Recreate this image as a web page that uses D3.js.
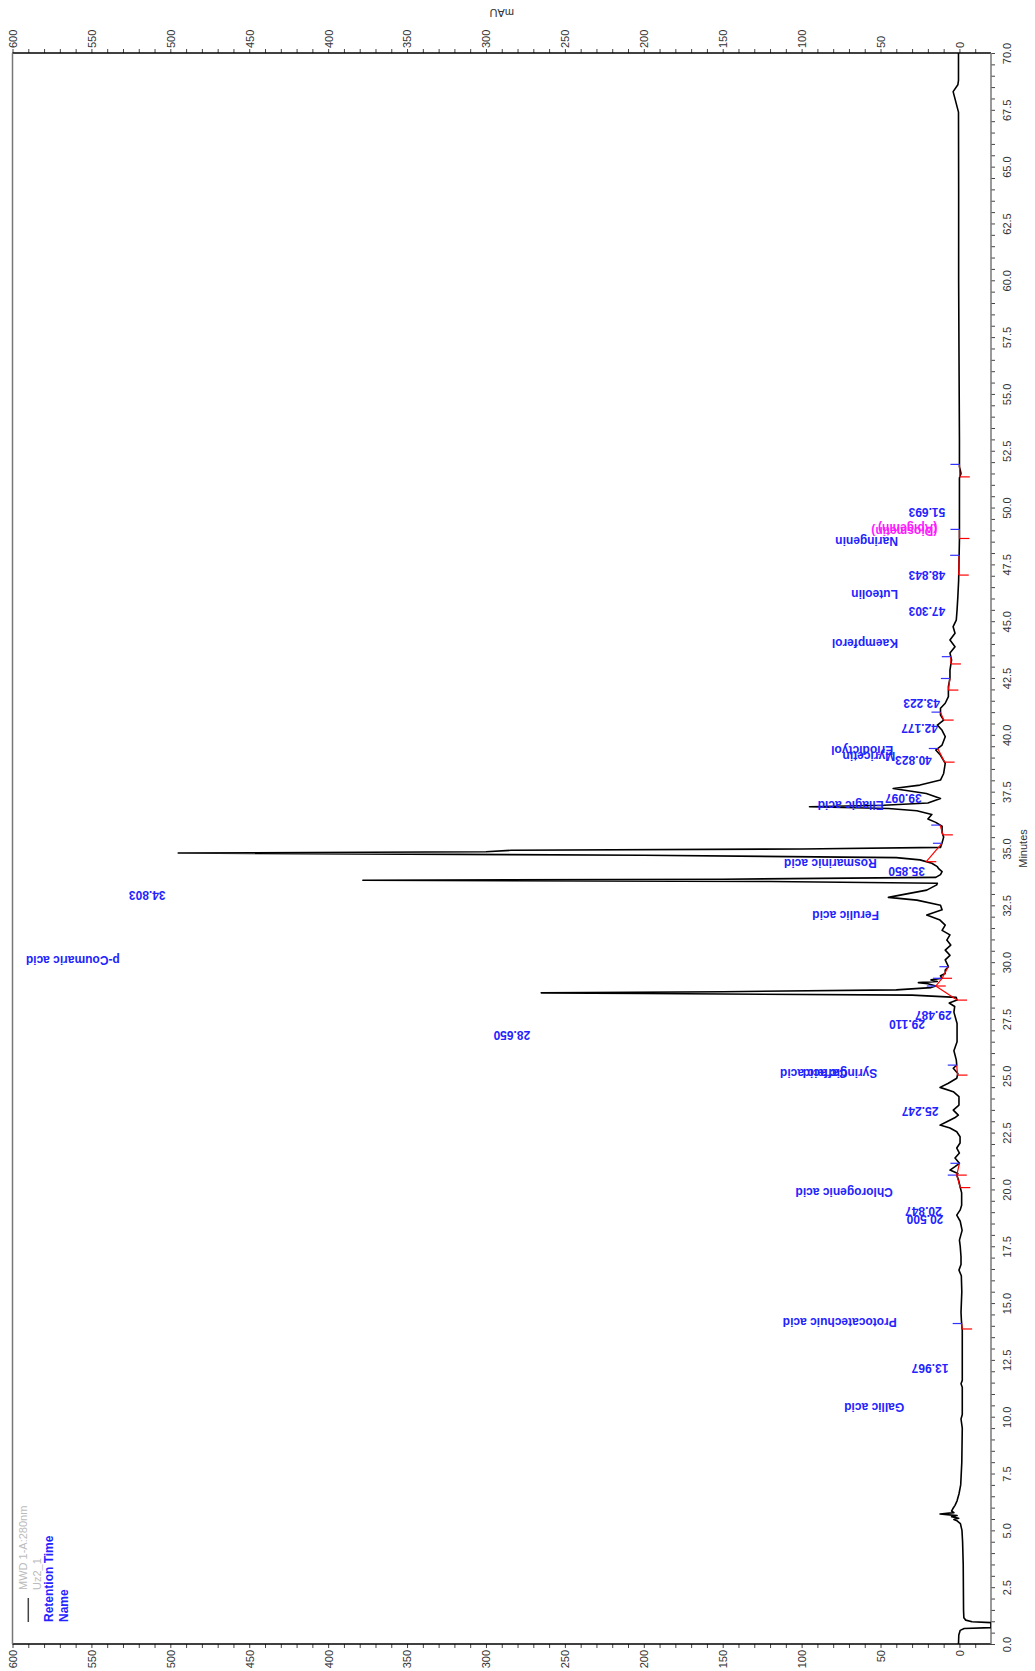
<!DOCTYPE html>
<html>
<head>
<meta charset="utf-8">
<script src="https://cdn.jsdelivr.net/npm/d3@7/dist/d3.min.js"></script>
<style>
body { margin: 0; background: #fff; }
svg { display: block; font-family: "Liberation Sans", Arial, sans-serif; }
</style>
</head>
<body>
<div class="chart"></div>
<script>
// trace: [minutes, mAU]
var trace = [
  [0.0, 0.6], [0.4, 0.4], [0.6, -0.5], [0.68, -3], [0.72, -20], [0.94, -20], [0.98, -8], [1.05, -4],
  [1.15, -2.8], [1.5, -2.6], [2.5, -2.5], [3.5, -2.4], [4.5, -2.0], [5.0, -1.6], [5.3, -0.6],
  [5.42, 1.5], [5.48, 3.5], [5.53, 0.5], [5.6, 5], [5.65, 1.5], [5.72, 12.3], [5.78, 3.5], [5.85, 5],
  [5.95, 4.2], [6.1, 2.8], [6.3, 1.5], [6.6, 0.3], [7.0, -0.8], [8.0, -1.5], [9.5, -1.8], [9.9, -1.0],
  [10.1, -1.8], [11.3, -1.8], [11.45, -1.0], [11.6, -1.8], [13.8, -1.8], [14.0, -1.5], [14.3, -1.2],
  [14.6, -1.0], [15.5, -1.5], [16.2, -1.2], [16.45, 0.3], [16.7, -1.0], [17.04, -1.0], [17.5, -0.5],
  [17.77, 0], [18.2, -1.7], [18.6, -0.5], [18.87, 1.7], [19.1, -0.5], [19.3, -1.4], [19.85, -1.4],
  [20.12, -0.4], [20.4, 0.5], [20.63, 1.7], [20.7, 1.0], [20.85, 6], [21.0, 2.8], [21.15, 0],
  [21.38, 2.8], [21.6, 0], [21.82, 1.7], [22.04, -0.4], [22.32, -0.4], [22.54, 1.7], [22.7, 6],
  [22.83, 12.3], [22.98, 8], [23.15, 3], [23.27, 0.7], [23.49, 3.9], [23.71, 0.3], [24.08, 0.3],
  [24.3, 3.9], [24.49, 12.3], [24.67, 7], [24.89, 1.7], [25.1, 1.0], [25.33, 3.9], [25.47, 1.7],
  [25.7, 2], [26.1, 3.5], [26.5, 1.5], [27.3, 1.5], [27.8, 3.5], [28.05, 3], [28.2, 6.5], [28.33, 1.5],
  [28.45, 2], [28.55, 30], [28.62, 200], [28.65, 265], [28.7, 150], [28.78, 40], [28.88, 18],
  [28.95, 15], [29.05, 20], [29.1, 26], [29.15, 14], [29.22, 18], [29.29, 11], [29.4, 12], [29.5, 9],
  [29.65, 9], [29.8, 7], [30.1, 9], [30.3, 6], [30.53, 9], [30.75, 5.5], [30.97, 8], [31.2, 6],
  [31.4, 11], [31.63, 9], [31.85, 12.3], [32.07, 20.7], [32.3, 11], [32.5, 12], [32.73, 27],
  [32.85, 45], [32.95, 37.6], [33.17, 20.7], [33.4, 14.4], [33.47, 14], [33.55, 120], [33.6, 378],
  [33.65, 150], [33.73, 15], [33.85, 12], [33.98, 11], [34.1, 13], [34.2, 14], [34.35, 17.5],
  [34.5, 25], [34.6, 40], [34.7, 200], [34.8, 495], [34.86, 300], [34.92, 284], [34.98, 100],
  [35.05, 12], [35.25, 11], [35.5, 10], [35.7, 11], [35.98, 11], [36.15, 15], [36.3, 20], [36.5, 17.5],
  [36.66, 27], [36.76, 45], [36.84, 95], [36.9, 48], [37.0, 20], [37.2, 12], [37.42, 21], [37.64, 42],
  [37.79, 25], [38.01, 12], [38.3, 10], [38.75, 9], [39.1, 12], [39.33, 15], [39.55, 11], [39.92, 9],
  [40.2, 11], [40.43, 14], [40.65, 10], [40.87, 12], [41.17, 12], [41.39, 9], [41.68, 7], [42.12, 7],
  [42.5, 6], [42.85, 6], [43.3, 5], [43.6, 6], [43.88, 2.8], [44.17, 6], [44.47, 2.8], [44.76, 4],
  [45.05, 2], [45.5, 1.5], [46.08, 1], [46.8, 0.5], [48.57, 0], [51.3, 0], [51.5, -1], [51.8, 0],
  [53.0, 0], [57.0, 0.3], [60.0, 0.5], [64.0, 0.5], [67.4, 0.6], [68.3, 4], [68.6, 1], [68.8, 0.6],
  [70.0, 0.6]
];

// integration start / end times (minutes)
var integrations = [
  [13.86, 14.1], [20.08, 20.63], [20.63, 21.15], [25.03, 25.47], [28.33, 28.95], [28.95, 29.29],
  [29.29, 29.8], [34.42, 35.23], [35.6, 36.03], [38.8, 39.4], [40.65, 41.0], [41.97, 42.48],
  [43.12, 43.44], [47.03, 47.9], [48.64, 49.04], [51.35, 51.9]
];

// peak labels: [text, minutes, mAU where the text starts]
var nameLabels = [
  ["Gallic acid", 10.44, 35], ["Protocatechuic acid", 14.18, 39.7], ["Chlorogenic acid", 19.86, 42.2],
  ["Syringic acid", 25.13, 52], ["Caffeic acid", 25.13, 71], ["p-Coumaric acid", 30.1, 532],
  ["Ferulic acid", 32.07, 51], ["Rosmarinic acid", 34.35, 52.4], ["Ellagic acid", 36.9, 48],
  ["Myricetin", 39.04, 40.7], ["Eriodictyol", 39.32, 42], ["Kaempferol", 44.02, 39],
  ["Luteolin", 46.18, 39], ["Naringenin", 48.5, 39]
];
var timeLabels = [
  ["13.967", 12.13, 7], ["20.500", 18.7, 10.2], ["20.847", 19.02, 11.2], ["25.247", 23.42, 13.3],
  ["28.650", 26.8, 272], ["29.110", 27.28, 21.8], ["29.487", 27.65, 4.9], ["34.803", 32.95, 503],
  ["35.850", 33.98, 21.8], ["39.097", 37.2, 23.9], ["40.823", 38.9, 17.5], ["42.177", 40.28, 13.6],
  ["43.223", 41.39, 12.3], ["47.303", 45.42, 9], ["48.843", 47.03, 9], ["51.693", 49.8, 9]
];
var magentaLabels = [["(Apigenin)", 49.1, 14], ["(Diosmetin)", 48.98, 14]];

var mauTicks = d3.range(-10, 601, 10);
var minuteTicks = d3.range(0, 70.001, 0.5);

var svgWidth = 1035, svgHeight = 1671;
var frame = { left: 12.5, right: 991, top: 53, bottom: 1644 };

var svg = d3.select(".chart").append("svg")
  .attr("width", svgWidth)
  .attr("height", svgHeight);

// mAU runs right to left, minutes bottom to top (chart turned on its side)
var xScale = d3.scaleLinear().domain([-20, 600]).range([frame.right, frame.left]);
var yScale = d3.scaleLinear().domain([0, 70]).range([frame.bottom, frame.top]);

svg.append("clipPath").attr("id", "plotclip")
  .append("rect")
  .attr("x", frame.left).attr("y", frame.top)
  .attr("width", frame.right - frame.left).attr("height", frame.bottom - frame.top);

// axes
var fmtMau = function (d) { return (d >= 0 && d % 50 === 0) ? d : ""; };

var topAxis = svg.append("g")
  .attr("transform", `translate(0, ${frame.top})`)
  .call(d3.axisTop(xScale).tickValues(mauTicks).tickSize(4).tickFormat(fmtMau));
topAxis.selectAll("text")
  .attr("transform", "rotate(-90)")
  .attr("x", 5).attr("y", 0).attr("dy", "0.35em")
  .style("text-anchor", "start");

var bottomAxis = svg.append("g")
  .attr("transform", `translate(0, ${frame.bottom})`)
  .call(d3.axisBottom(xScale).tickValues(mauTicks).tickSize(4).tickFormat(fmtMau));
bottomAxis.selectAll("text")
  .attr("transform", "rotate(-90)")
  .attr("x", -6).attr("y", 0).attr("dy", "0.35em")
  .style("text-anchor", "end");

var rightAxis = svg.append("g")
  .attr("transform", `translate(${frame.right}, 0)`)
  .call(d3.axisRight(yScale).tickValues(minuteTicks).tickSize(4)
    .tickFormat(function (d) { return (Math.round(d * 10) % 25 === 0) ? d3.format(".1f")(d) : ""; }));
rightAxis.selectAll("text")
  .attr("transform", "rotate(-90)")
  .attr("x", 0).attr("y", 16.5).attr("dy", "0.35em")
  .style("text-anchor", "middle");

svg.selectAll(".domain").remove();
svg.selectAll(".tick line").attr("stroke", "#444");
svg.selectAll(".tick text").attr("fill", "#333").style("font-size", "11px")
  .style("font-family", "'Liberation Sans', Arial, sans-serif");

// frame
svg.append("line").attr("x1", frame.left).attr("x2", frame.right).attr("y1", frame.top).attr("y2", frame.top)
  .attr("stroke", "#000").attr("stroke-width", 1.5);
svg.append("line").attr("x1", frame.left).attr("x2", frame.right).attr("y1", frame.bottom).attr("y2", frame.bottom)
  .attr("stroke", "#000").attr("stroke-width", 1.5);
svg.append("line").attr("x1", frame.left).attr("x2", frame.left).attr("y1", frame.top).attr("y2", frame.bottom)
  .attr("stroke", "#777").attr("stroke-width", 1.5);
svg.append("line").attr("x1", frame.right).attr("x2", frame.right).attr("y1", frame.top).attr("y2", frame.bottom)
  .attr("stroke", "#777").attr("stroke-width", 1.5);

// axis titles
svg.append("text")
  .attr("transform", `translate(${(frame.left + frame.right) / 2}, 13) rotate(180)`)
  .attr("dy", "0.35em")
  .style("text-anchor", "middle").style("font-size", "11px").attr("fill", "#333")
  .text("mAU");
svg.append("text")
  .attr("transform", `translate(1023, ${(frame.top + frame.bottom) / 2}) rotate(-90)`)
  .attr("dy", "0.35em")
  .style("text-anchor", "middle").style("font-size", "11px").attr("fill", "#333")
  .text("Minutes");

// trace
var line = d3.line()
  .x(d => xScale(d[1]))
  .y(d => yScale(d[0]));

var plot = svg.append("g").attr("clip-path", "url(#plotclip)");

plot.append("path")
  .datum(trace)
  .attr("fill", "none")
  .attr("stroke", "#000")
  .attr("stroke-width", 1.6)
  .attr("stroke-linejoin", "round")
  .attr("d", line);

// value of the trace at a given time
var bisect = d3.bisector(d => d[0]).left;
function traceAt(t) {
  var i = bisect(trace, t);
  if (i <= 0) return trace[0][1];
  if (i >= trace.length) return trace[trace.length - 1][1];
  var a = trace[i - 1], b = trace[i];
  return a[1] + (b[1] - a[1]) * (t - a[0]) / (b[0] - a[0]);
}

// integration baselines and marks
var marks = plot.append("g");
integrations.forEach(function (p) {
  var ys = traceAt(p[0]), ye = traceAt(p[1]);
  marks.append("line")
    .attr("x1", xScale(ys)).attr("y1", yScale(p[0]))
    .attr("x2", xScale(ye)).attr("y2", yScale(p[1]))
    .attr("stroke", "#f00").attr("stroke-width", 1.2);
  marks.append("line")
    .attr("x1", xScale(ys)).attr("x2", xScale(ys) + 10)
    .attr("y1", yScale(p[0])).attr("y2", yScale(p[0]))
    .attr("stroke", "#f00").attr("stroke-width", 1.2);
  marks.append("line")
    .attr("x1", xScale(ye) - 9).attr("x2", xScale(ye))
    .attr("y1", yScale(p[1])).attr("y2", yScale(p[1]))
    .attr("stroke", "#33f").attr("stroke-width", 1.2);
});

// peak labels, upside down
function drawLabels(list, color) {
  svg.append("g").selectAll("text")
    .data(list)
    .enter()
    .append("text")
    .attr("transform", d => `translate(${xScale(d[2])}, ${yScale(d[1])}) rotate(180)`)
    .attr("dy", "0.35em")
    .style("text-anchor", "start")
    .style("font-size", "12px")
    .style("font-weight", "bold")
    .attr("fill", color)
    .text(d => d[0]);
}
drawLabels(nameLabels, "#2323ff");
drawLabels(timeLabels, "#2323ff");
drawLabels(magentaLabels, "#ff1aff");

// legend, bottom left
var legend = svg.append("g");
legend.append("text")
  .attr("transform", "translate(22.7, 1590) rotate(-90)").attr("dy", "0.35em")
  .style("font-size", "11px").attr("fill", "#bbb").text("MWD 1-A:280nm");
legend.append("text")
  .attr("transform", "translate(36.7, 1590) rotate(-90)").attr("dy", "0.35em")
  .style("font-size", "11px").attr("fill", "#bbb").text("Uz2_1");
legend.append("line")
  .attr("x1", 28.3).attr("x2", 28.3).attr("y1", 1598).attr("y2", 1622)
  .attr("stroke", "#444").attr("stroke-width", 1.5);
legend.append("text")
  .attr("transform", "translate(48.3, 1622) rotate(-90)").attr("dy", "0.35em")
  .style("font-size", "12px").style("font-weight", "bold").attr("fill", "#2323ff").text("Retention Time");
legend.append("text")
  .attr("transform", "translate(63.3, 1622) rotate(-90)").attr("dy", "0.35em")
  .style("font-size", "12px").style("font-weight", "bold").attr("fill", "#2323ff").text("Name");
</script>
</body>
</html>
